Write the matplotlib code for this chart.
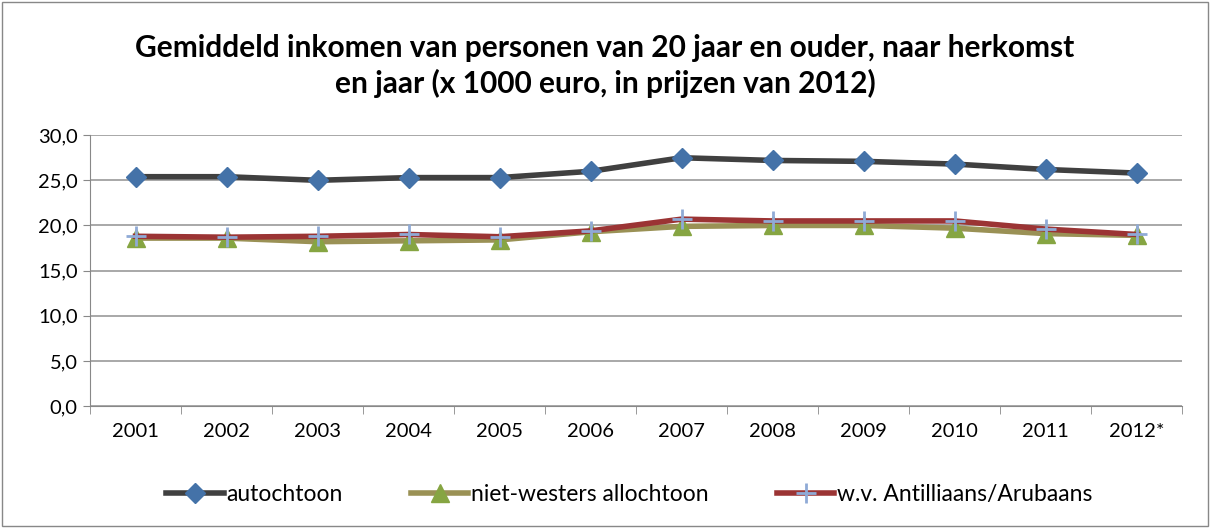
import numpy as np
import matplotlib
matplotlib.use('Agg')
import matplotlib.pyplot as plt
from matplotlib.patches import Rectangle

years = ['2001', '2002', '2003', '2004', '2005', '2006', '2007', '2008', '2009', '2010', '2011', '2012*']
autochtoon = [25.4, 25.4, 25.0, 25.3, 25.3, 26.0, 27.5, 27.2, 27.1, 26.8, 26.2, 25.8]
niet_westers = [18.6, 18.6, 18.2, 18.3, 18.4, 19.3, 19.9, 20.0, 20.0, 19.7, 19.1, 18.9]
antilliaans = [18.8, 18.7, 18.8, 19.0, 18.75, 19.4, 20.7, 20.5, 20.5, 20.5, 19.6, 19.0]
y_ticks = [0, 5, 10, 15, 20, 25, 30]

plt.rcParams['font.family'] = ['Lato', 'DejaVu Sans']

fig = plt.figure(figsize=(12.1, 5.28), dpi=100)
fig.patches.append(Rectangle((0.002, 0.003), 0.996, 0.994, transform=fig.transFigure,
                             fill=False, edgecolor='#888888', linewidth=1.0))
ax = fig.add_axes([0.0744, 0.231, 0.9026, 0.513])

x = np.arange(len(years))
ax.plot(x, autochtoon, color='#404040', lw=4, marker='D', ms=10,
        mfc='#4472a8', mec='#4472a8', label='autochtoon', zorder=3)
ax.plot(x, niet_westers, color='#9a9155', lw=4, marker='^', ms=13,
        mfc='#86a542', mec='#86a542', label='niet-westers allochtoon', zorder=4)
ax.plot(x, antilliaans, color='#9b3434', lw=4, marker='+', ms=14, mew=2,
        mec='#8faad6', label='w.v. Antilliaans/Arubaans', zorder=5)

ax.set_xlim(-0.5, len(years) - 0.5)
ax.set_ylim(0, 30)
ax.set_yticks(y_ticks)
ax.set_yticklabels([f'{v:.1f}'.replace('.', ',') for v in y_ticks], fontsize=14.5)
ax.set_xticks(x)
ax.set_xticklabels(years, fontsize=14.5)
ax.set_xticks(np.arange(-0.5, len(years)), minor=True)
ax.tick_params(axis='x', which='major', length=0, pad=12)
ax.tick_params(axis='x', which='minor', length=6, color='#888888')
ax.tick_params(axis='y', length=5, color='#888888', pad=4)
ax.grid(axis='y', color='#999999', lw=1.2)
ax.set_axisbelow(True)
for s in ['top', 'right']:
    ax.spines[s].set_visible(False)
for s in ['left', 'bottom']:
    ax.spines[s].set_color('#888888')

fig.text(0.5, 0.875, 'Gemiddeld inkomen van personen van 20 jaar en ouder, naar herkomst\nen jaar (x 1000 euro, in prijzen van 2012)',
         ha='center', va='center', fontsize=21.5, fontweight='bold', linespacing=1.3)

fig.legend(loc='center', bbox_to_anchor=(0.52, 0.064), ncol=3, frameon=False,
           fontsize=16.5, handlelength=2.5, handletextpad=0.1, columnspacing=3.0)

fig.savefig('out.png', dpi=100)
